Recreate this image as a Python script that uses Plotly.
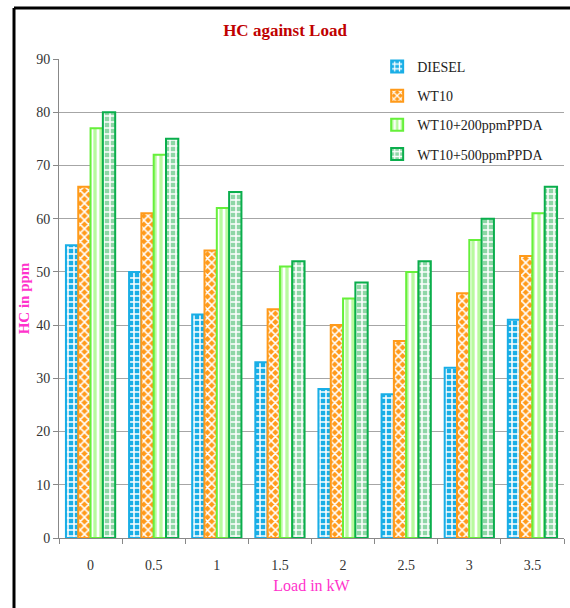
import plotly.graph_objects as go

loads = ["0", "0.5", "1", "1.5", "2", "2.5", "3", "3.5"]
diesel = [55, 50, 42, 33, 28, 27, 32, 41]
wt10 = [66, 61, 54, 43, 40, 37, 46, 53]
wt10_200 = [77, 72, 62, 51, 45, 50, 56, 61]
wt10_500 = [80, 75, 65, 52, 48, 52, 60, 66]

series = [
    ("DIESEL", diesel, "#19AEE6", "#19AEE6", "#FFFFFF", "+"),
    ("WT10", wt10, "#FF9A1A", "#FF9A1A", "#FFFFFF", "x"),
    ("WT10+200ppmPPDA", wt10_200, "#66F03A", "#B8FA9E", "#FFFFFF", "|"),
    ("WT10+500ppmPPDA", wt10_500, "#0AAE4C", "#8ED6A6", "#FFFFFF", "+"),
]

serif = "Liberation Serif, Times New Roman, serif"

fig = go.Figure()
for i, (name, vals, line_c, bg, fg, shape) in enumerate(series):
    fig.add_trace(go.Bar(
        x=loads, y=vals, name=name, legendgroup=f"g{i}",
        marker=dict(
            color=bg,
            line=dict(color=line_c, width=2),
            pattern=dict(shape=shape, bgcolor=bg, fgcolor=fg,
                         size=6, solidity=0.45, fillmode="replace"),
        ),
    ))

fig.update_layout(
    width=570, height=608,
    margin=dict(l=59, r=6, t=59, b=70),
    paper_bgcolor="white", plot_bgcolor="white",
    barmode="group", bargap=0.22, bargroupgap=0.0,
    font=dict(family=serif, size=13, color="#333333"),
    title=dict(text="<b>HC against Load</b>", x=0.5, xref="container", xanchor="center",
               y=0.95, yanchor="middle",
               font=dict(family=serif, size=17, color="#C00000")),
    legend=dict(x=0.63, y=1.017, xanchor="left", yanchor="top",
                bgcolor="rgba(0,0,0,0)",
                font=dict(family=serif, size=14, color="#222222"),
                tracegroupgap=8, traceorder="grouped", itemwidth=30),
    xaxis=dict(type="category", tickson="boundaries", ticks="outside",
               ticklen=5, tickcolor="#888888", showline=True, linecolor="#888888",
               linewidth=1, showgrid=False, ticklabelstandoff=14,
               tickfont=dict(family=serif, size=14, color="#333333"),
               title=dict(text="Load in kW", standoff=8,
                          font=dict(family=serif, size=16, color="#FF33CC"))),
    yaxis=dict(range=[0, 90], dtick=10, ticks="outside", ticklen=5,
               tickcolor="#888888", showline=True, linecolor="#888888",
               showgrid=True, gridcolor="#A6A6A6", gridwidth=1,
               zeroline=False,
               tickfont=dict(family=serif, size=14, color="#333333"),
               title=dict(text="<b>HC in ppm</b>", standoff=2,
                          font=dict(family=serif, size=15, color="#FF33CC"))),
    shapes=[
        dict(type="line", xref="paper", yref="paper", x0=-0.0891, x1=1.02,
             y0=1.1065, y1=1.1065, line=dict(color="black", width=3)),
        dict(type="line", xref="paper", yref="paper", x0=-0.0891, x1=-0.0891,
             y0=-0.2, y1=1.1065, line=dict(color="black", width=3)),
    ],
)

fig.write_html("out.html")
